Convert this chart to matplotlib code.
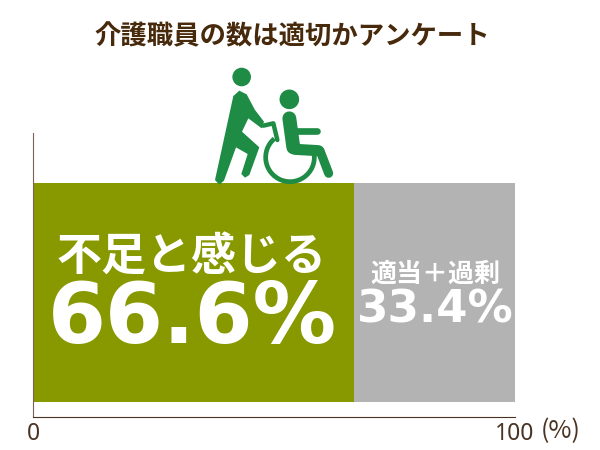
import numpy as np
import matplotlib
matplotlib.use("Agg")
import matplotlib.pyplot as plt
from matplotlib.patches import Circle, Polygon, Arc

plt.rcParams['font.family'] = ['Noto Sans CJK JP', 'DejaVu Sans']

title = "介護職員の数は適切かアンケート"
labels = ["不足と感じる", "適当＋過剰"]
values = [66.6, 33.4]
colors = ["#889900", "#b3b3b3"]
xticks = [0, 100]
icon_green = "#1e8c45"
brown = "#4a3322"

fig = plt.figure(figsize=(6, 4.5), dpi=100)
ax = fig.add_axes([33 / 600, (450 - 416.5) / 450, 482 / 600, 283.5 / 450])

# stacked bar
left = 0
for v, c in zip(values, colors):
    ax.barh(0, v, left=left, height=219, color=c, align="edge")
    left += v
ax.set_xlim(0, 100)
ax.set_ylim(-14.5, 269)
ax.set_yticks([])
ax.set_xticks(xticks)
ax.set_xticklabels([str(t) for t in xticks], fontsize=16.5, color=brown, family="Noto Sans")
ax.tick_params(axis="x", length=0, pad=4)
for s in ["top", "right"]:
    ax.spines[s].set_visible(False)
ax.spines["left"].set_color("#7a6355")
ax.spines["bottom"].set_color(brown)

# text is placed in pixel space on a full overlay
ov = fig.add_axes([0, 0, 1, 1], facecolor="none")
ov.set_xlim(0, 600)
ov.set_ylim(450, 0)
ov.axis("off")

ov.text(292, 37, title, ha="center", va="center", fontsize=19, fontweight="bold", color="#47290c")
ov.text(192, 257, labels[0], ha="center", va="center", fontsize=32.4, fontweight="bold", color="white")
ov.text(192.5, 319, f"{values[0]}%", ha="center", va="center", fontsize=60, fontweight="bold",
        color="white", family="DejaVu Sans")
ov.text(435, 274, labels[1], ha="center", va="center", fontsize=18.7, fontweight="bold", color="white")
ov.text(435, 310, f"{values[1]}%", ha="center", va="center", fontsize=32.5, fontweight="bold",
        color="white", family="DejaVu Sans")
ov.text(541, 431, "(%)", ha="left", va="center", fontsize=18, color=brown)


# icon, outlined on the 3x zoom grid
def ix(x):
    return 200 + x / 3


def iy(y):
    return 60 + y / 3


def pts(p):
    return [(ix(a), iy(b)) for a, b in p]


def stroke(p, w):
    q = np.array(pts(p))
    ov.plot(q[:, 0], q[:, 1], color=icon_green, lw=w, solid_capstyle="round", solid_joinstyle="round")


ov.add_patch(Circle((ix(125), iy(51)), 9.3, color=icon_green, lw=0))
ov.add_patch(Circle((ix(268), iy(118)), 9.8, color=icon_green, lw=0))
# pusher
ov.add_patch(Polygon(pts([(100, 108), (118, 92), (140, 103), (165, 150), (192, 185), (185, 205),
                          (145, 175), (126, 215), (178, 262), (148, 345), (135, 353), (124, 342), (143, 282),
                          (108, 262), (72, 362), (58, 374), (45, 360)]), closed=True, color=icon_green, lw=0))
stroke([(190, 197), (220, 190), (232, 240)], 3.2)
# wheel, the overlay y axis is flipped so the arc runs the other way
ov.add_patch(Arc((ix(270), iy(292)), 146 / 3, 146 / 3, theta1=-5, theta2=230, angle=0,
                 color=icon_green, lw=3.4))
# seated person
stroke([(268, 175), (280, 262)], 10)
stroke([(285, 268), (355, 272)], 8)
stroke([(360, 272), (386, 340)], 6.5)
stroke([(290, 212), (350, 212)], 4.8)

plt.savefig("out.png", dpi=100)
